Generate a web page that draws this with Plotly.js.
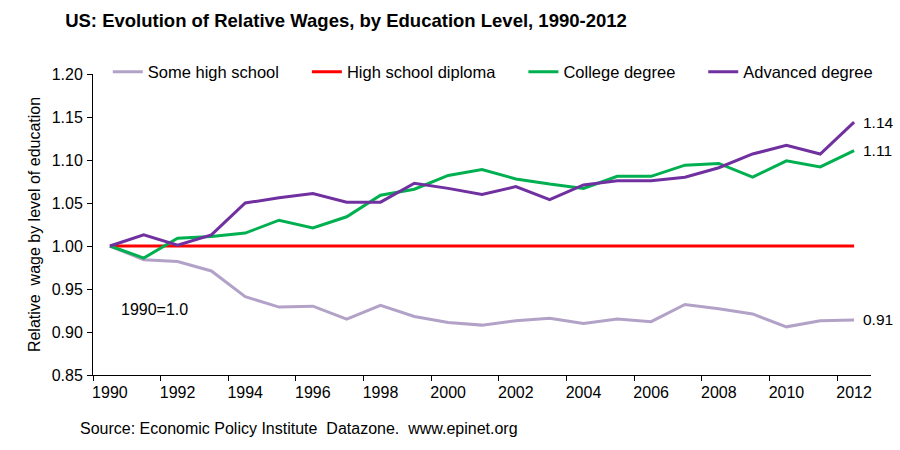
<!DOCTYPE html>
<html>
<head>
<meta charset="utf-8">
<script src="https://cdn.plot.ly/plotly-3.0.1.min.js"></script>
<style>html,body{margin:0;padding:0;background:#fff;}#chart{width:900px;height:450px;}</style>
</head>
<body>
<div id="chart"></div>
<script>
var years = [1990,1991,1992,1993,1994,1995,1996,1997,1998,1999,2000,2001,2002,2003,2004,2005,2006,2007,2008,2009,2010,2011,2012];
var someHighSchool = [1.000,0.984,0.982,0.971,0.941,0.929,0.930,0.915,0.931,0.918,0.911,0.908,0.913,0.916,0.910,0.915,0.912,0.932,0.927,0.921,0.906,0.913,0.914];
var highSchoolDiploma = [1,1,1,1,1,1,1,1,1,1,1,1,1,1,1,1,1,1,1,1,1,1,1];
var collegeDegree = [1.000,0.986,1.009,1.011,1.015,1.030,1.021,1.034,1.059,1.066,1.082,1.089,1.078,1.072,1.067,1.081,1.081,1.094,1.096,1.080,1.099,1.092,1.111];
var advancedDegree = [1.000,1.013,1.001,1.013,1.050,1.056,1.061,1.051,1.051,1.073,1.067,1.060,1.069,1.054,1.071,1.076,1.076,1.080,1.091,1.107,1.117,1.107,1.144];
var seriesNames = ["Some high school","High school diploma","College degree","Advanced degree"];
var seriesColors = ["#B3A2C7","#FF0000","#00B050","#7030A0"];
var endLabels = ["0.91","1.14","1.11"];
var xTickLabels = ["1990","1992","1994","1996","1998","2000","2002","2004","2006","2008","2010","2012"];
var xTickVals = xTickLabels.map(Number);

var font = "Liberation Sans, Arial, sans-serif";
var pads = ["\u00a0\u00a0\u00a0\u00a0\u00a0", "\u00a0\u00a0\u00a0\u00a0\u00a0", "\u00a0\u00a0\u00a0\u00a0\u00a0", ""];
var allSeries = [someHighSchool, highSchoolDiploma, collegeDegree, advancedDegree];
var traces = allSeries.map(function(s, i){
  return {x: years, y: s, type: "scatter", mode: "lines", name: seriesNames[i] + pads[i],
          line: {color: seriesColors[i], width: 3}};
});
var last = years.length - 1;
var annots = [
  {y: someHighSchool[last], text: endLabels[0]},
  {y: advancedDegree[last], text: endLabels[1]},
  {y: collegeDegree[last], text: endLabels[2]}
].map(function(a){
  return {x: years[last], y: a.y, xref: "x", yref: "y", text: a.text, showarrow: false,
          xanchor: "left", yanchor: "middle", xshift: 7, font: {family: font, size: 15.5, color: "#000"}};
});
annots.push({x: (119 - 93) / 777, y: (375 - 309) / 301, xref: "paper", yref: "paper", text: "1990=1.0", showarrow: false,
  xanchor: "left", yanchor: "middle", font: {family: font, size: 16, color: "#000"}});
annots.push({x: (78 - 93) / 777, y: (375 - 428) / 301, xref: "paper", yref: "paper",
  text: "Source: Economic Policy Institute\u00a0 Datazone.\u00a0 www.epinet.org", showarrow: false,
  xanchor: "left", yanchor: "middle", font: {family: font, size: 16, color: "#000"}});

var layout = {
  width: 900, height: 450,
  margin: {l: 93, r: 29, t: 74, b: 75},
  paper_bgcolor: "#fff", plot_bgcolor: "#fff",
  title: {text: "US: Evolution of Relative Wages, by Education Level, 1990-2012",
          font: {family: font, size: 18.5, color: "#000", weight: "bold"},
          x: 346/900, xanchor: "center", y: 1 - 21/450, yanchor: "middle"},
  showlegend: true,
  legend: {orientation: "h", x: 0.019, xanchor: "left", y: 1.0066, yanchor: "middle",
           font: {family: font, size: 16.5, color: "#000"}, bgcolor: "rgba(0,0,0,0)"},
  xaxis: {range: [1989.5, 2012.5], tickvals: xTickVals, ticktext: xTickLabels,
          ticks: "outside", ticklen: 0, showgrid: false, zeroline: false,
          showline: true, linecolor: "#000", linewidth: 1, ticklabelstandoff: 3,
          tickfont: {family: font, size: 16, color: "#000"},
          minor: {tick0: 1989.5, dtick: 2, ticks: "outside", ticklen: 5, tickcolor: "#000", tickwidth: 1, showgrid: false}},
  yaxis: {range: [0.85, 1.20], dtick: 0.05, tick0: 0.85, tickformat: ".2f",
          ticks: "outside", ticklen: 5, tickcolor: "#000", showgrid: false, zeroline: false,
          showline: true, linecolor: "#000", linewidth: 1, ticklabelstandoff: 1,
          tickfont: {family: font, size: 16, color: "#000"},
          title: {text: "Relative\u00a0 wage by level of education", font: {family: font, size: 16, color: "#000"}, standoff: 7}},
  annotations: annots
};
Plotly.newPlot("chart", traces, layout, {displayModeBar: false, staticPlot: true});
</script>
</body>
</html>
